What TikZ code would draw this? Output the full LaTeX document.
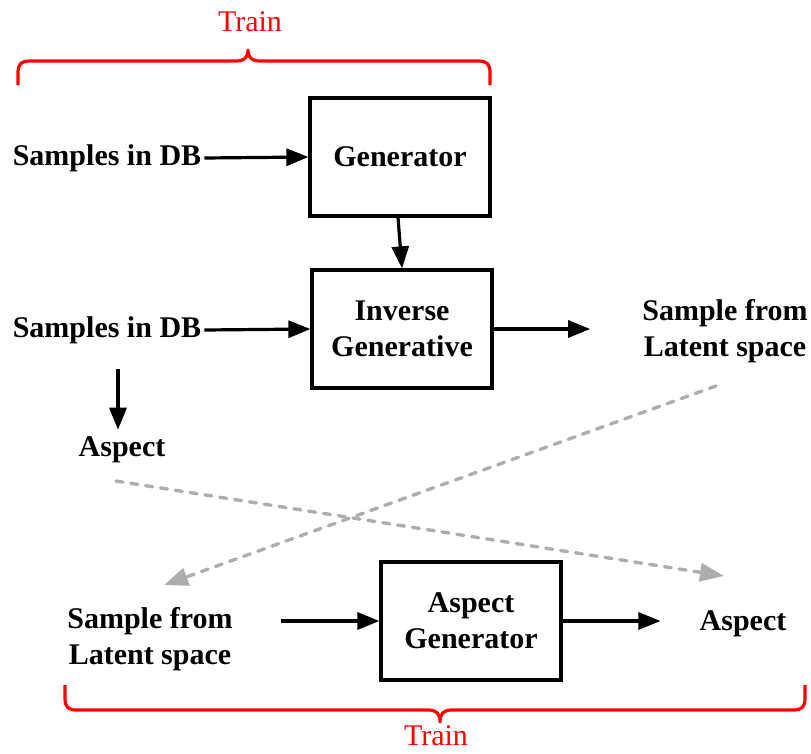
\documentclass[tikz,border=0pt]{standalone}
\usepackage{fontspec}
\setmainfont{Liberation Serif}
\usetikzlibrary{arrows.meta,calc}
\begin{document}
\begin{tikzpicture}[x=1pt,y=-1pt,
  lbl/.style={font=\fontsize{30}{36}\selectfont\bfseries, align=center, inner sep=3pt},
  blk/.style={lbl, draw, line width=3.2pt, minimum width=180pt, minimum height=118pt},
  arr/.style={line width=3.2pt, -{Triangle[length=22pt,width=17pt]}},
  garr/.style={draw=black!32, line width=3.4pt, line cap=round, dash pattern=on 7pt off 8pt,
               -{Triangle[length=24pt,width=18pt]}},
  brace/.style={red, line width=3.2pt, line join=round},
  trn/.style={red, font=\fontsize{30}{36}\selectfont, inner sep=0pt}]
\useasboundingbox (0,0) rectangle (811,753);

% blocks
\node[blk] (gen) at (400,157) {Generator};
\node[blk] (inv) at (402,329) {Inverse\\Generative};
\node[blk] (ag)  at (471,621) {Aspect\\Generator};

% labels
\node[lbl] (s1)   at (107,158) {Samples in DB};
\node[lbl] (s2)   at (107,330) {Samples in DB};
\node[lbl] (lat1) at (725,331) {Sample from\\Latent space};
\node[lbl] (asp1) at (122,450) {Aspect};
\node[lbl] (lat2) at (150,639) {Sample from\\Latent space};
\node[lbl] (asp2) at (743,624) {Aspect};

% solid connectors
\draw[arr] (s1.east) -- (gen.west);
\draw[arr] (s2.east) -- (inv.west);
\draw[arr] ([xshift=-2pt]gen.south) -- ([xshift=0pt]inv.north);
\draw[arr, shorten >=49pt] (inv.east) -- (inv.east -| lat1.west);
\draw[arr, shorten <=22pt, shorten >=4pt] ([xshift=-4pt]asp1.north |- s2.south) -- ([xshift=-4pt]asp1.north);
\draw[arr, shorten <=45pt] (lat2.east |- ag.west) -- (ag.west);
\draw[arr, shorten >=36pt] (ag.east) -- (ag.east -| asp2.west);

% dashed cross-links
\coordinate (c1s) at (116,481);
\coordinate (c1e) at (724,576);
\coordinate (c2s) at (716,386);
\coordinate (c2e) at (164,585);
\draw[garr] (c1s) -- (c1e);
\draw[garr] (c2s) -- (c2e);

% top brace
\draw[brace] (18,85) -- (18,73) .. controls (18,64) and (21,61) .. (30,61)
  -- (236,61) .. controls (244,61) and (248,58) .. (248,50)
  .. controls (248,58) and (252,61) .. (260,61)
  -- (478,61) .. controls (487,61) and (490,64) .. (490,73) -- (490,85);
\node[trn] (t1) at (250,22) {Train};

% bottom brace
\draw[brace] (65,685) -- (65,698) .. controls (65,707) and (68,710) .. (77,710)
  -- (428,710) .. controls (436,710) and (440,713) .. (440,722)
  .. controls (440,713) and (444,710) .. (452,710)
  -- (793,710) .. controls (802,710) and (805,707) .. (805,698) -- (805,685);
\node[trn] (t2) at (436,736) {Train};
\end{tikzpicture}
\end{document}
